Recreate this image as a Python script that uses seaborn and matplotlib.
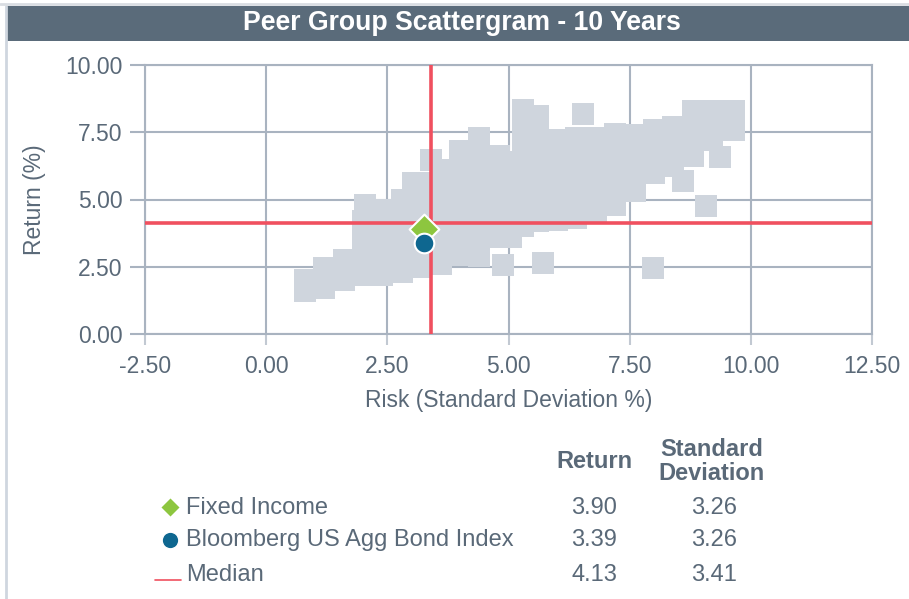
import matplotlib
matplotlib.use("Agg")
import matplotlib.pyplot as plt
import seaborn as sns
import pandas as pd
from matplotlib.patches import Rectangle
from matplotlib.lines import Line2D

sns.set_theme(style="white")
plt.rcParams["font.family"] = ["Liberation Sans", "DejaVu Sans"]

# Peer universe: risk (std dev %) and return (%) of each peer fund
peer_risk = [
    0.80, 0.80,
    1.20, 1.20, 1.20,
    1.60, 1.60, 1.60,
    2.00, 2.00, 2.00, 2.00, 2.00, 2.00, 2.03,
    2.40, 2.40, 2.40, 2.40, 2.40, 2.40,
    2.80, 2.80, 2.80, 2.80, 2.80, 2.80, 2.80, 3.02,
    3.20, 3.20, 3.20, 3.20, 3.20, 3.20, 3.20,
    3.60, 3.60, 3.60, 3.60, 3.60, 3.60, 3.60, 3.60, 3.41,
    4.00, 4.00, 4.00, 4.00, 4.00, 4.00, 4.00, 4.00, 4.00,
    4.40, 4.40, 4.40, 4.40, 4.40, 4.40, 4.40, 4.40, 4.40, 4.40,
    4.80, 4.80, 4.80, 4.80, 4.80, 4.80, 4.80, 4.88,
    5.05, 5.05, 5.05, 5.05, 5.05, 5.05, 5.05,
    5.29, 5.29, 5.29, 5.29, 5.29, 5.29, 5.29, 5.29, 5.29,
    5.60, 5.60, 5.60, 5.60, 5.60, 5.60, 5.60, 5.60, 5.60, 5.71,
    6.00, 6.00, 6.00, 6.00, 6.00, 6.00, 6.00,
    6.40, 6.40, 6.40, 6.40, 6.40, 6.40, 6.40, 6.53,
    6.80, 6.80, 6.80, 6.80, 6.80, 6.80, 6.80,
    7.20, 7.20, 7.20, 7.20, 7.20, 7.20, 7.20,
    7.60, 7.60, 7.60, 7.60, 7.60,
    8.00, 8.00, 8.00, 8.00, 7.98,
    8.40, 8.40, 8.40, 8.40, 8.60,
    8.80, 8.80, 8.80, 8.80, 8.80,
    9.20, 9.20, 9.20, 9.20, 9.37, 9.08,
    9.65, 9.65, 9.65,
]
peer_return = [
    1.60, 2.00,
    1.70, 2.10, 2.45,
    2.00, 2.40, 2.75,
    2.20, 2.60, 3.00, 3.40, 3.80, 4.20, 4.80,
    2.20, 2.70, 3.20, 3.70, 4.20, 4.60,
    2.30, 2.80, 3.30, 3.80, 4.30, 4.80, 5.00, 5.61,
    2.50, 3.00, 3.50, 4.00, 4.50, 5.00, 5.60,
    2.60, 3.10, 3.60, 4.10, 4.60, 5.10, 5.60, 6.10, 6.47,
    2.95, 3.40, 3.90, 4.40, 4.90, 5.40, 5.90, 6.40, 6.80,
    2.90, 3.40, 3.90, 4.40, 4.90, 5.40, 5.90, 6.40, 6.90, 7.30,
    3.60, 4.10, 4.60, 5.10, 5.60, 6.10, 6.60, 2.56,
    3.60, 4.10, 4.60, 5.10, 5.60, 6.10, 6.40,
    4.00, 4.50, 5.00, 5.50, 6.00, 6.50, 7.00, 7.50, 8.33,
    4.20, 4.70, 5.20, 5.70, 6.20, 6.70, 7.20, 7.70, 8.10, 2.64,
    4.25, 4.75, 5.25, 5.75, 6.25, 6.75, 7.20,
    4.30, 4.80, 5.30, 5.80, 6.30, 6.80, 7.30, 8.18,
    4.55, 5.00, 5.50, 6.00, 6.50, 7.00, 7.30,
    4.80, 5.30, 5.80, 6.30, 6.80, 7.30, 7.45,
    5.30, 5.80, 6.30, 6.80, 7.40,
    6.00, 6.50, 7.00, 7.60, 2.47,
    6.25, 6.80, 7.30, 7.70, 5.69,
    6.60, 7.10, 7.60, 8.10, 8.30,
    7.20, 7.70, 8.20, 8.30, 6.58, 4.76,
    7.60, 8.00, 8.30,
]

# Highlighted series
series_names = ["Fixed Income", "Bloomberg US Agg Bond Index"]
series_return = [3.90, 3.39]
series_risk = [3.26, 3.26]
median_return = 4.13
median_risk = 3.41

x_ticks = [-2.5, 0.0, 2.5, 5.0, 7.5, 10.0, 12.5]
y_ticks = [0.0, 2.5, 5.0, 7.5, 10.0]

TEXT = "#5a6978"
GRID = "#a9b3c0"
PEER = "#cfd5dd"
RED = "#f0505f"
GREEN = "#8dc63f"
BLUE = "#0e6790"

W, H = 909, 599
fig = plt.figure(figsize=(W / 100, H / 100), dpi=100)

# page frame and title bar
fig.patches.append(Rectangle((0, 0), 1, 1, transform=fig.transFigure,
                             facecolor="white", edgecolor="none", zorder=-10))
fig.add_artist(Line2D([6 / W, 6 / W], [0, 1 - 6 / H], transform=fig.transFigure,
                      color="#cfd6df", lw=2))
fig.add_artist(Line2D([0, 1], [1 - 4 / H, 1 - 4 / H], transform=fig.transFigure,
                      color="#d9dde2", lw=2))
fig.patches.append(Rectangle((7 / W, 1 - 41 / H), 1, 35 / H, transform=fig.transFigure,
                             facecolor="#5a6b7a", edgecolor="none"))
fig.text(462 / W, 1 - 23 / H, "Peer Group Scattergram - 10 Years", color="white",
         fontsize=19.2, fontweight="bold", ha="center", va="center")

ax = fig.add_axes([145 / W, 1 - 334 / H, 727 / W, 269 / H])

peers = pd.DataFrame({"risk": peer_risk, "ret": peer_return})
sns.scatterplot(data=peers, x="risk", y="ret", marker="s", s=250, color=PEER,
                linewidth=0, ax=ax, zorder=2, legend=False)

ax.axhline(median_return, color=RED, lw=2.6, zorder=3)
ax.axvline(median_risk, color=RED, lw=2.6, zorder=3)

sns.scatterplot(x=[series_risk[0]], y=[series_return[0]], marker="D", s=230,
                color=GREEN, edgecolor="white", linewidth=1.5, ax=ax, zorder=4)
sns.scatterplot(x=[series_risk[1]], y=[series_return[1]], marker="o", s=200,
                color=BLUE, edgecolor="white", linewidth=1.5, ax=ax, zorder=5)

ax.set_xlim(-2.5, 12.5)
ax.set_ylim(0, 10)
ax.set_xticks(x_ticks)
ax.set_yticks(y_ticks)
ax.set_xticklabels([f"{v:.2f}" for v in x_ticks])
ax.set_yticklabels([f"{v:.2f}" for v in y_ticks])
ax.grid(True, color=GRID, lw=1.5, zorder=0)
ax.set_axisbelow(True)
for s in ax.spines.values():
    s.set_color(GRID)
    s.set_linewidth(1.5)
    s.set_zorder(1)
ax.tick_params(axis="y", length=11, width=1.5, color=GRID, labelcolor=TEXT,
               labelsize=16.5, pad=5, left=True)
ax.tick_params(axis="x", length=8, width=1.5, color="#c2c9d2", labelcolor=TEXT,
               labelsize=16.5, pad=7, bottom=True)
ax.set_xlabel("Risk (Standard Deviation %)", color=TEXT, fontsize=16.5, labelpad=8)
ax.set_ylabel("Return (%)", color=TEXT, fontsize=16.5, labelpad=14)

# summary table under the chart
def fy(py):
    return 1 - py / H

FS = 17
fig.text(594 / W, fy(462), "Return", color=TEXT, fontsize=FS, fontweight="bold",
         ha="center", va="center")
fig.text(712 / W, fy(449), "Standard", color=TEXT, fontsize=FS,
         fontweight="bold", ha="center", va="center")
fig.text(712 / W, fy(474), "Deviation", color=TEXT, fontsize=FS,
         fontweight="bold", ha="center", va="center")

rows_y = [508, 540, 575]
labels = series_names + ["Median"]
rets = series_return + [median_return]
risks = series_risk + [median_risk]
for py, lab, r, sd in zip(rows_y, labels, rets, risks):
    fig.text(186 / W, fy(py), lab, color=TEXT, fontsize=FS, ha="left", va="center")
    fig.text(594 / W, fy(py), f"{r:.2f}", color=TEXT, fontsize=FS, ha="center", va="center")
    fig.text(714 / W, fy(py), f"{sd:.2f}", color=TEXT, fontsize=FS, ha="center", va="center")

fig.add_artist(Line2D([170 / W], [fy(507)], marker="D", markersize=10,
                      markerfacecolor=GREEN, markeredgecolor="white", markeredgewidth=1,
                      transform=fig.transFigure))
fig.add_artist(Line2D([170 / W], [fy(540)], marker="o", markersize=12,
                      markerfacecolor=BLUE, markeredgecolor="white", markeredgewidth=1,
                      transform=fig.transFigure))
fig.add_artist(Line2D([155 / W, 181 / W], [fy(580), fy(580)], color=RED, lw=1.2,
                      transform=fig.transFigure))

fig.savefig("out.png", dpi=100)
